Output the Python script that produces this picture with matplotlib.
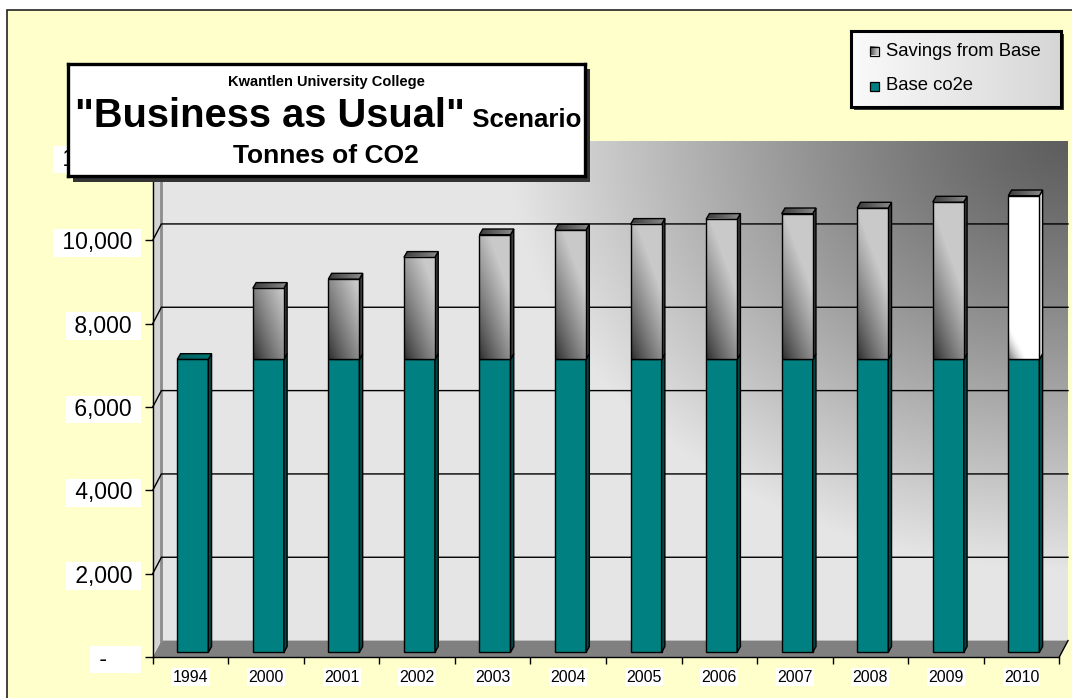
import numpy as np
import matplotlib
matplotlib.use("Agg")
import matplotlib.pyplot as plt
from matplotlib.patches import Rectangle, Polygon

plt.rcParams['font.family'] = ['Liberation Sans', 'DejaVu Sans']

# ---------------- data ----------------
years = ["1994", "2000", "2001", "2002", "2003", "2004", "2005",
         "2006", "2007", "2008", "2009", "2010"]
base_co2e = [7030, 7030, 7030, 7030, 7030, 7030, 7030, 7030, 7030, 7030, 7030, 7030]
savings_from_base = [0, 1706, 1929, 2450, 2992, 3105, 3242, 3362, 3496, 3633, 3777, 3928]
y_ticks = [0, 2000, 4000, 6000, 8000, 10000, 12000]
y_tick_labels = ["-", "2,000", "4,000", "6,000", "8,000", "10,000", "12,000"]
series_names = ["Savings from Base", "Base co2e"]
title_top = "Kwantlen University College"
title_main = '"Business as Usual"'
title_suffix = "Scenario"
title_units = "Tonnes of CO2"
y_max = 12000

# ---------------- styles ----------------
TEAL = '#008080'
TEAL_SIDE = '#004848'
BG_YELLOW = '#FFFFCC'
white_bar_index = len(years) - 1   # last savings bar is drawn white in the original

W, H = 1072, 698
fig = plt.figure(figsize=(W / 100, H / 100), dpi=100, facecolor='white')


def fx(x):
    return x / W


def fy(y):
    return 1 - y / H


# chart area background with border
fig.patches.append(Rectangle((fx(7), -0.2), 1.3, fy(10) + 0.2, transform=fig.transFigure,
                             facecolor=BG_YELLOW, edgecolor='#222222', lw=1.2, zorder=-10))

# ---------------- main axes (front plane) ----------------
AX_L, AX_B, AX_R, AX_T = 152.7, 657.0, 1059.3, 157.0
ax = fig.add_axes([fx(AX_L), fy(AX_B), (AX_R - AX_L) / W, (AX_B - AX_T) / H])
ax.set_zorder(1)
n = len(years)
ax.patch.set_visible(False)

ppx = (AX_R - AX_L) / n        # pixels per category
ppy = (AX_B - AX_T) / y_max    # pixels per unit


def cx(p):
    return p / ppx


def cy(p):
    return p / ppy


DX, DY = cx(8.7), cy(16.4)     # full depth of the 3D box
BDX, BDY = cx(2.3), cy(4.7)    # bar front-face offset
SDX, SDY = cx(3.3), cy(5.7)    # bar depth
BW = cx(31)                    # bar width

# back wall gradient (dark at upper right)
wx0, wx1 = -0.5 + DX, n - 0.5 + DX
wy0, wy1 = DY, y_max + DY
wall_w, wall_h = (wx1 - wx0) * ppx, (wy1 - wy0) * ppy
nyi, nxi = 250, 450
Xp = np.linspace(0, wall_w, nxi)[None, :]
Yp = np.linspace(0, wall_h, nyi)[:, None]
d = np.sqrt((wall_w - Xp) ** 2 + (1.3 * Yp) ** 2)
val = 0.37 + 0.53 * np.clip(d / 560, 0, 1) ** 1.2
wall_img = np.dstack([val, val, val])
im = ax.imshow(wall_img, extent=(wx0, wx1, wy0, wy1), origin='upper', aspect='auto',
               zorder=0, interpolation='bilinear')
im.set_clip_on(False)

# floor
ax.add_patch(Polygon([(-0.5, 0), (n - 0.5, 0), (n - 0.5 + DX, DY), (-0.5 + DX, DY)],
                     closed=True, facecolor='#808080', edgecolor='none', zorder=0.5, clip_on=False))
ax.plot([n - 0.5, n - 0.5 + DX], [0, DY], color='black', lw=1, zorder=0.6, clip_on=False)
# side wall
ax.add_patch(Polygon([(-0.5, 0), (-0.5 + DX, DY), (-0.5 + DX, y_max + DY), (-0.5, y_max)],
                     closed=True, facecolor='#D4D4D4', edgecolor='none', zorder=0.5, clip_on=False))
ax.plot([-0.5 + DX, -0.5 + DX], [DY, y_max + DY], color='#8C8C8C', lw=2, zorder=0.6, clip_on=False)

# gridlines
for v in y_ticks[1:-1]:
    ax.plot([-0.5, -0.5 + DX, n - 0.5 + DX], [v, v + DY, v + DY], color='black', lw=1,
            zorder=1, clip_on=False)

# ---------------- bars ----------------
xpos = np.arange(n) + BDX
base_arr = np.array(base_co2e, dtype=float)
sav_arr = np.array(savings_from_base, dtype=float)

base_bars = ax.bar(xpos, base_arr, width=BW, bottom=BDY, color=TEAL, edgecolor='black',
                   lw=1, zorder=3)
sav_bars = ax.bar(xpos, sav_arr, width=BW, bottom=base_arr + BDY, facecolor='none',
                  edgecolor='black', lw=1, zorder=3.3)


def side_face(xr, yb, yt, color, z):
    ax.add_patch(Polygon([(xr, yb), (xr + SDX, yb + SDY), (xr + SDX, yt + SDY), (xr, yt)],
                         closed=True, facecolor=color, edgecolor='black', lw=1, zorder=z,
                         clip_on=False))


def top_face(xl, xr, yt, c_left, c_right, z):
    poly = Polygon([(xl, yt), (xl + SDX, yt + SDY), (xr + SDX, yt + SDY), (xr, yt)],
                   closed=True, facecolor='none', edgecolor='black', lw=1, zorder=z + 0.1,
                   clip_on=False)
    ax.add_patch(poly)
    g = np.linspace(0, 1, 40)[None, :]
    cl = np.array(matplotlib.colors.to_rgb(c_left))
    cr = np.array(matplotlib.colors.to_rgb(c_right))
    img = cl[None, None, :] * (1 - g[..., None]) + cr[None, None, :] * g[..., None]
    img = np.repeat(img, 4, axis=0)
    tim = ax.imshow(img, extent=(xl, xr + SDX, yt, yt + SDY), origin='upper', aspect='auto',
                    zorder=z, interpolation='bilinear')
    tim.set_clip_path(poly)


for i in range(n):
    rb = base_bars[i]
    xl, xr = rb.get_x(), rb.get_x() + rb.get_width()
    yb, yt = rb.get_y(), rb.get_y() + rb.get_height()
    side_face(xr, yb, yt, TEAL_SIDE, 3.1)
    rs = sav_bars[i]
    if rs.get_height() <= 0:
        rs.set_visible(False)
        top_face(xl, xr, yt, '#005A5A', '#007878', 3.2)
        continue
    sb, st = rs.get_y(), rs.get_y() + rs.get_height()
    # front face gradient
    hpx = max(int(rs.get_height() * ppy), 2)
    wpx = max(int(BW * ppx), 2)
    u = np.linspace(0, 1, wpx)[None, :]
    h = np.linspace(hpx, 0, hpx)[:, None]
    if i == white_bar_index:
        t = np.clip(1.6 * u + h / 35.0, 0, 1)
        v = 1.0 - 0.55 * (1 - t) ** 1.5
        side_col = '#D8D8D8'
    else:
        t = np.clip(0.55 * u + h / 150.0, 0, 1)
        v = 0.16 + 0.63 * t ** 0.8
        side_col = '#3A3A3A'
    fim = ax.imshow(np.dstack([v, v, v]), extent=(xl, xr, sb, st), origin='upper',
                    aspect='auto', zorder=3.25, interpolation='bilinear')
    fim.set_clip_on(False)
    side_face(xr, sb, st, side_col, 3.1)
    top_face(xl, xr, st, '#3C3C3C', '#8C8C8C', 3.2)

ax.set_xlim(-0.5, n - 0.5)
ax.set_ylim(0, y_max)

# ---------------- axes, ticks ----------------
for s in ['top', 'right']:
    ax.spines[s].set_visible(False)
for s in ['left', 'bottom']:
    ax.spines[s].set_color('black')
    ax.spines[s].set_linewidth(1)
    ax.spines[s].set_zorder(5)

ax.set_yticks(y_ticks)
ylabs = [" " + lab + " " if lab != "-" else " -     " for lab in y_tick_labels]
ax.set_yticklabels(ylabs, fontsize=16.5)
for lab in ax.get_yticklabels():
    lab.set_bbox(dict(facecolor='white', edgecolor='none', boxstyle='square,pad=0.1'))
ax.tick_params(axis='y', direction='out', length=5.8, width=1, pad=4.5, colors='black')

ax.set_xticks(np.arange(n))
ax.set_xticklabels(years, fontsize=11.5)
for lab in ax.get_xticklabels():
    lab.set_bbox(dict(facecolor='white', edgecolor='none', boxstyle='square,pad=0.08'))
ax.set_xticks(np.arange(n + 1) - 0.5, minor=True)
ax.tick_params(axis='x', which='major', length=0, pad=9)
ax.tick_params(axis='x', which='minor', direction='out', length=5, width=1)

# ---------------- legend ----------------
LX0, LY0, LX1, LY1 = 851, 31, 1061, 107
fig.patches.append(Rectangle((fx(LX0 + 3), fy(LY1 + 3)), (LX1 - LX0) / W, (LY1 - LY0) / H,
                             transform=fig.transFigure, facecolor='#3A3A3A', edgecolor='none',
                             zorder=2))
lax = fig.add_axes([fx(LX0), fy(LY1), (LX1 - LX0) / W, (LY1 - LY0) / H])
lax.set_zorder(3)
lg = np.linspace(0.98, 0.84, 100)[None, :]
lax.imshow(np.dstack([lg, lg, lg]) * np.ones((10, 1, 1)), extent=(LX0, LX1, LY1, LY0),
           aspect='auto', zorder=0, interpolation='bilinear')
lax.set_xticks([])
lax.set_yticks([])
for s in lax.spines.values():
    s.set_linewidth(2.2)
    s.set_color('black')

rows = [51, 86]
# savings marker (grey gradient)
mg = np.linspace(0.3, 0.85, 20)[None, :] * np.ones((20, 1))
lax.imshow(np.dstack([mg, mg, mg]), extent=(870.5, 879.5, rows[0] + 4.5, rows[0] - 4.5),
           aspect='auto', zorder=2)
lax.add_patch(Rectangle((870.5, rows[0] - 4.5), 9, 9, facecolor='none', edgecolor='black',
                        lw=0.9, zorder=3))
lax.add_patch(Rectangle((870.5, rows[1] - 4.5), 9, 9, facecolor=TEAL, edgecolor='black',
                        lw=0.9, zorder=3))
lax.set_xlim(LX0, LX1)
lax.set_ylim(LY1, LY0)
for r, name in zip(rows, series_names):
    lax.text(886, r, name, fontsize=13.3, va='center', ha='left', color='black')

# ---------------- title box ----------------
TX0, TY0, TX1, TY1 = 67.5, 63.5, 584.5, 175.5
fig.patches.append(Rectangle((fx(TX0 + 5), fy(TY1 + 6)), (TX1 - TX0) / W, (TY1 - TY0) / H,
                             transform=fig.transFigure, facecolor='#333333', edgecolor='none',
                             zorder=2))
tax = fig.add_axes([fx(TX0), fy(TY1), (TX1 - TX0) / W, (TY1 - TY0) / H])
tax.set_zorder(3)
tax.set_facecolor('white')
tax.set_xlim(TX0, TX1)
tax.set_ylim(TY1, TY0)
tax.set_xticks([])
tax.set_yticks([])
for s in tax.spines.values():
    s.set_linewidth(2.4)
    s.set_color('black')

cxm = (TX0 + TX1) / 2
tax.text(cxm, 82, title_top, fontsize=10.5, fontweight='bold', ha='center', va='center')
tax.text(cxm, 156, title_units, fontsize=19, fontweight='bold', ha='center', va='center')
renderer = fig.canvas.get_renderer()
t1 = tax.text(0, 127, title_main, fontsize=28.7, fontweight='bold', ha='left', va='baseline')
t2 = tax.text(0, 127, " " + title_suffix, fontsize=18.6, fontweight='bold', ha='left',
              va='baseline')
w1 = t1.get_window_extent(renderer).width
w2 = t2.get_window_extent(renderer).width
start = cxm - (w1 + w2) / 2 + 2
t1.set_x(start)
t2.set_x(start + w1)

fig.savefig("out.png", dpi=100, facecolor='white')
